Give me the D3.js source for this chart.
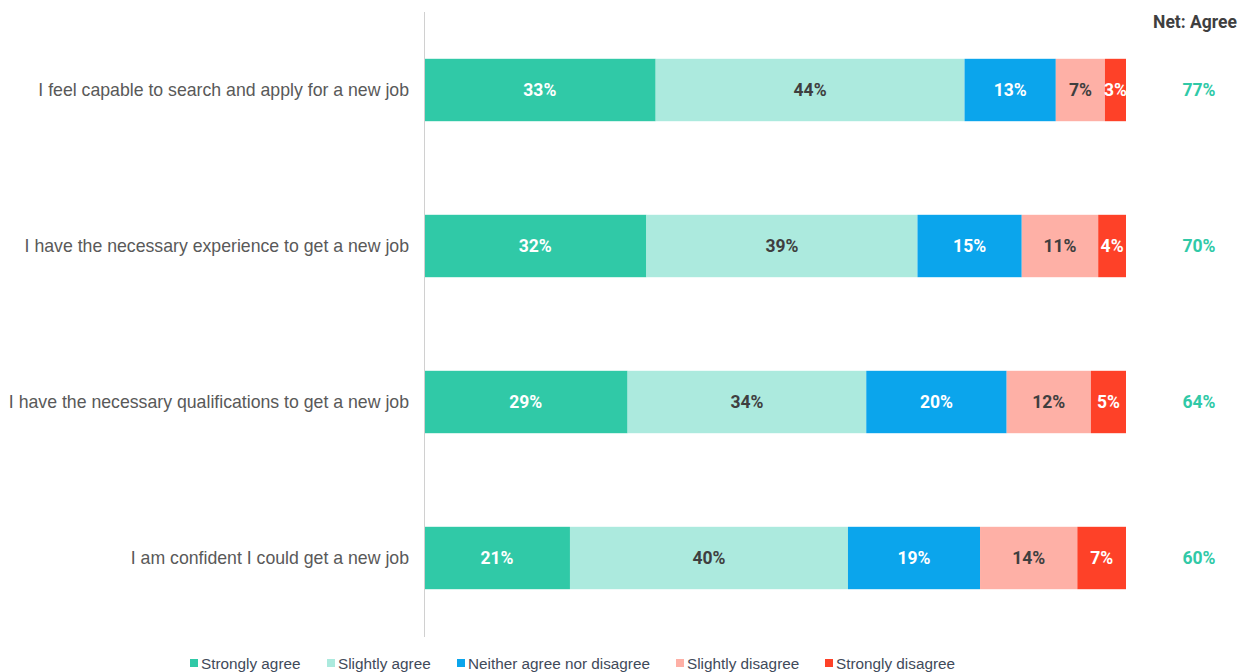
<!DOCTYPE html>
<html>
<head>
<meta charset="utf-8">
<script src="https://cdn.jsdelivr.net/npm/d3@7/dist/d3.min.js"></script>
<style>
  html, body { margin: 0; padding: 0; background: #fff; }
  svg { display: block; }
</style>
</head>
<body>
<svg id="chart" width="1247" height="672"></svg>
<script>
// Survey statements (top to bottom)
const statements = [
  "I feel capable to search and apply for a new job",
  "I have the necessary experience to get a new job",
  "I have the necessary qualifications to get a new job",
  "I am confident I could get a new job"
];
// Response categories
const responses = ["Strongly agree", "Slightly agree", "Neither agree nor disagree", "Slightly disagree", "Strongly disagree"];
// Percentages per response, in statement order
const stronglyAgree    = [33, 32, 29, 21];
const slightlyAgree    = [44, 39, 34, 40];
const neither          = [13, 15, 20, 19];
const slightlyDisagree = [7, 11, 12, 14];
const stronglyDisagree = [3, 4, 5, 7];
const netAgree         = [77, 70, 64, 60];

const colors = ["#30C9A7", "#ACEADE", "#0BA5EC", "#FEB0A6", "#FE4128"];
const labelColors = ["#ffffff", "#3f3f3f", "#ffffff", "#3f3f3f", "#ffffff"];

const seriesValues = [stronglyAgree, slightlyAgree, neither, slightlyDisagree, stronglyDisagree];
const rows = statements.map((s, i) => {
  const vals = seriesValues.map(arr => arr[i]);
  const total = d3.sum(vals);
  let acc = 0;
  const segs = vals.map((v, k) => {
    const seg = { k, v, x0: acc / total, x1: (acc + v) / total };
    acc += v;
    return seg;
  });
  return { statement: s, segs, net: netAgree[i] };
});

const svg = d3.select("#chart");
const plotLeft = 424, plotRight = 1126, plotTop = 12, plotBottom = 636;
const valueFont = "Roboto, 'Liberation Sans', sans-serif";
const valueSize = 17.5;

const x = d3.scaleLinear().domain([0, 1]).range([plotLeft, plotRight]);
const y = d3.scaleBand().domain(statements).range([plotTop, plotBottom]).paddingInner(0.6).paddingOuter(0.3);

// Bars
const rowG = svg.append("g").selectAll("g").data(rows).join("g")
  .attr("transform", d => `translate(0,${y(d.statement)})`);

rowG.selectAll("rect").data(d => d.segs).join("rect")
  .attr("x", d => x(d.x0))
  .attr("width", d => x(d.x1) - x(d.x0))
  .attr("y", 0)
  .attr("height", y.bandwidth())
  .attr("fill", d => colors[d.k]);

rowG.selectAll("text.val").data(d => d.segs).join("text")
  .attr("class", "val")
  .attr("x", d => (x(d.x0) + x(d.x1)) / 2)
  .attr("y", y.bandwidth() / 2)
  .attr("dy", "0.36em")
  .attr("text-anchor", "middle")
  .attr("font-family", valueFont)
  .attr("font-weight", "bold")
  .attr("font-size", valueSize)
  .attr("fill", d => labelColors[d.k])
  .text(d => d.v + "%");

// Net agree column
rowG.append("text")
  .attr("x", 1199)
  .attr("y", y.bandwidth() / 2)
  .attr("dy", "0.36em")
  .attr("text-anchor", "middle")
  .attr("font-family", valueFont)
  .attr("font-weight", "bold")
  .attr("font-size", valueSize)
  .attr("fill", "#30C9A7")
  .text(d => d.net + "%");

svg.append("text")
  .attr("x", 1195)
  .attr("y", 22)
  .attr("dy", "0.36em")
  .attr("text-anchor", "middle")
  .attr("font-family", valueFont)
  .attr("font-weight", "bold")
  .attr("font-size", valueSize)
  .attr("fill", "#3f3f3f")
  .text("Net: Agree");

// Category axis
const yAxis = svg.append("g")
  .attr("transform", `translate(${plotLeft},0)`)
  .call(d3.axisLeft(y).tickSize(0).tickPadding(15));
yAxis.select(".domain").attr("stroke", "#d0d0d0").attr("d", `M0.5,${plotTop}V${plotBottom + 1}`);
yAxis.selectAll(".tick text")
  .attr("font-family", "'Liberation Sans', Arial, sans-serif")
  .attr("font-size", 17.7)
  .attr("fill", "#595959");

// Legend
const legendX = [190, 327, 457, 676, 825];
const legend = svg.append("g").selectAll("g").data(responses).join("g")
  .attr("transform", (d, i) => `translate(${legendX[i]},663)`);
legend.append("rect")
  .attr("x", 0).attr("y", -4).attr("width", 8).attr("height", 8)
  .attr("fill", (d, i) => colors[i]);
legend.append("text")
  .attr("x", 11).attr("y", 0).attr("dy", "0.36em")
  .attr("font-family", "'Liberation Sans', Arial, sans-serif")
  .attr("font-size", 15.3)
  .attr("fill", "#3f4a5a")
  .text(d => d);
</script>
</body>
</html>
